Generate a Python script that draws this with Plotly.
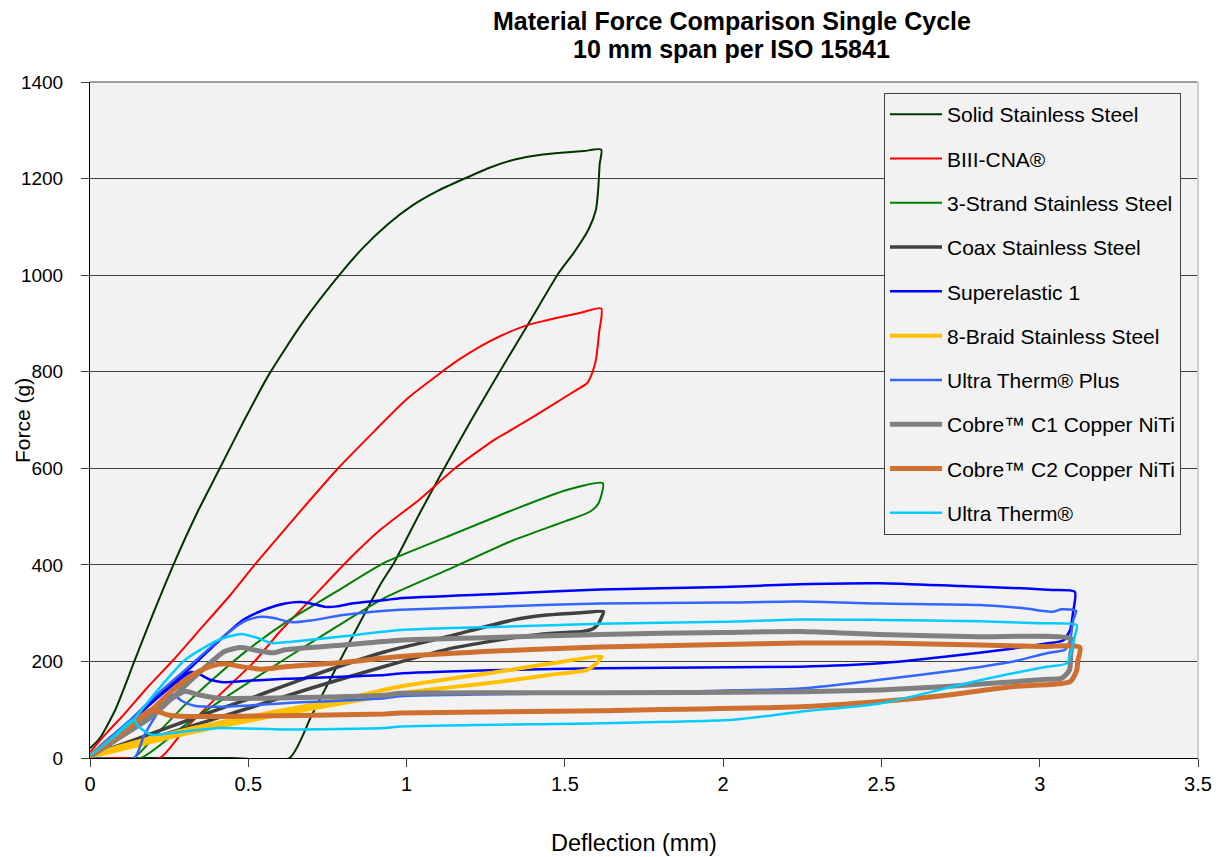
import plotly.graph_objects as go

# ---------------- data (deflection mm, force g) ----------------
solid_x = [0, 0.03, 0.08, 0.14, 0.2, 0.27, 0.34, 0.41, 0.49, 0.566, 0.67, 0.775, 0.86, 0.94, 1.02, 1.1, 1.176, 1.26, 1.345, 1.42, 1.5, 1.56, 1.615,
           1.61, 1.605, 1.598, 1.575, 1.53, 1.48, 1.39, 1.294, 1.2, 1.119, 1.04, 0.961, 0.916, 0.8, 0.7, 0.63, 0.45, 0.25, 0.02]
solid_y = [20, 40, 100, 200, 300, 410, 510, 600, 703, 795, 900, 990, 1055, 1105, 1145, 1175, 1198, 1222, 1240, 1249, 1254, 1257, 1260,
           1230, 1175, 1135, 1095, 1048, 1004, 905, 800, 695, 600, 505, 405, 358, 215, 88, 0, 0, 0, 0]

biii_x = [0, 0.05, 0.1, 0.18, 0.263, 0.35, 0.44, 0.52, 0.65, 0.781, 0.9, 1.0, 1.108, 1.17, 1.232, 1.3, 1.379, 1.44, 1.491, 1.55, 1.615,
          1.608, 1.598, 1.585, 1.57, 1.536, 1.47, 1.401, 1.34, 1.277, 1.153, 1.04, 0.916, 0.816, 0.7, 0.6, 0.52, 0.4, 0.3, 0.221, 0.1, 0.02]
biii_y = [12, 50, 85, 145, 203, 268, 335, 400, 500, 598, 678, 743, 798, 827, 852, 875, 896, 906, 914, 922, 931,
          880, 824, 795, 776, 762, 735, 707, 683, 659, 600, 535, 472, 410, 330, 262, 200, 125, 60, 0, 0, 0]

strand_x = [0.02, 0.137, 0.2, 0.3, 0.4, 0.5, 0.616, 0.774, 0.932, 1.127, 1.337, 1.506, 1.62,
            1.606, 1.579, 1.5, 1.337, 1.127, 0.932, 0.774, 0.616, 0.45, 0.3, 0.16, 0.02]
strand_y = [0, 0, 42, 110, 170, 225, 280, 343, 405, 458, 514, 555, 569,
            527, 510, 490, 451, 389, 332, 270, 205, 135, 68, 0, 0]

coax_x = [0, 0.1, 0.2, 0.35, 0.5, 0.7, 0.932, 1.127, 1.337, 1.443, 1.55, 1.622,
          1.615, 1.606, 1.59, 1.558, 1.45, 1.369, 1.25, 1.127, 0.932, 0.7, 0.5, 0.3, 0.15, 0]
coax_y = [5, 28, 52, 88, 122, 170, 220, 251, 286, 296, 301, 303,
          290, 278, 268, 262, 258, 252, 240, 225, 190, 145, 103, 62, 32, 3]

super_x = [0, 0.05, 0.121, 0.2, 0.3, 0.4, 0.484, 0.55, 0.616, 0.668, 0.71, 0.742, 0.78, 0.826, 0.932, 0.979, 1.3, 1.611, 2.0, 2.243, 2.495, 2.75, 2.96, 3.04, 3.111,
           3.105, 3.096, 3.075, 3.022, 2.917, 2.706, 2.495, 2.243, 1.611, 1.3, 0.979, 0.932, 0.616, 0.5, 0.42, 0.38, 0.35, 0.32, 0.25, 0.15, 0.05, 0]
super_y = [5, 35, 72, 120, 176, 238, 286, 307, 320, 323, 318, 313, 314, 320, 327, 331, 340, 349, 354, 360, 362, 356, 351, 348, 344,
           300, 265, 244, 237, 227, 210, 196, 189, 186, 182, 175, 172, 164, 160, 157, 162, 172, 178, 145, 88, 30, 3]

braid_x = [0, 0.1, 0.3, 0.6, 0.8, 0.979, 1.295, 1.45, 1.616,
           1.608, 1.6, 1.585, 1.569, 1.45, 1.295, 0.979, 0.8, 0.6, 0.3, 0.1, 0]
braid_y = [5, 25, 58, 98, 122, 148, 179, 195, 210,
           203, 196, 188, 182, 172, 158, 134, 114, 90, 50, 18, 2]

utp_x = [0, 0.05, 0.121, 0.2, 0.3, 0.4, 0.484, 0.532, 0.58, 0.637, 0.7, 0.8, 0.932, 0.979, 1.3, 1.611, 2.0, 2.243, 2.495, 2.811, 2.95, 3.043, 3.069, 3.115,
         3.106, 3.096, 3.08, 3.022, 2.917, 2.706, 2.495, 2.243, 1.611, 0.979, 0.932, 0.6, 0.42, 0.33, 0.29, 0.263, 0.22, 0.17, 0.14, 0.01]
utp_y = [5, 35, 75, 125, 182, 240, 282, 292, 290, 281, 285, 296, 305, 307, 314, 320, 322, 324, 320, 317, 310, 303, 308, 305,
         286, 244, 224, 217, 200, 179, 162, 144, 135, 128, 124, 113, 106, 108, 118, 131, 100, 45, 0, 0]

c1_x = [0, 0.05, 0.195, 0.332, 0.426, 0.479, 0.532, 0.58, 0.616, 0.8, 0.979, 1.3, 1.611, 2.0, 2.243, 2.495, 2.811, 3.101,
        3.098, 3.094, 3.069, 3.022, 2.706, 2.495, 2.243, 1.611, 0.979, 0.932, 0.405, 0.342, 0.3, 0.268, 0.2, 0.1, 0]
c1_y = [5, 25, 86, 169, 221, 229, 222, 218, 224, 234, 244, 250, 256, 260, 262, 256, 251, 246,
        215, 182, 165, 163, 148, 141, 137, 135, 134, 130, 124, 131, 138, 127, 95, 45, 3]

c2_x = [0, 0.05, 0.195, 0.26, 0.332, 0.38, 0.426, 0.479, 0.543, 0.616, 0.8, 0.979, 1.3, 1.611, 2.0, 2.243, 2.495, 2.811, 3.0, 3.127,
        3.12, 3.117, 3.096, 2.917, 2.706, 2.495, 2.243, 1.611, 0.979, 0.932, 0.405, 0.3, 0.247, 0.22, 0.195, 0.1, 0]
c2_y = [5, 28, 100, 140, 175, 190, 195, 189, 184, 189, 198, 210, 222, 230, 235, 238, 238, 234, 231, 229,
        200, 182, 158, 148, 130, 117, 106, 98, 93, 91, 86, 86, 89, 95, 100, 55, 3]

ut_x = [0, 0.05, 0.137, 0.2, 0.3, 0.405, 0.479, 0.532, 0.574, 0.637, 0.8, 0.979, 1.3, 1.611, 2.0, 2.243, 2.495, 2.811, 3.0, 3.117,
        3.11, 3.101, 3.085, 3.022, 2.811, 2.495, 2.243, 2.032, 1.611, 0.979, 0.932, 0.616, 0.405, 0.247, 0.195, 0.153, 0.137, 0.05, 0]
ut_y = [5, 30, 79, 130, 203, 244, 257, 248, 238, 241, 252, 265, 272, 278, 282, 287, 286, 283, 279, 275,
        250, 224, 196, 189, 161, 113, 96, 79, 72, 65, 62, 59, 62, 51, 48, 65, 79, 30, 5]

names = ["Solid Stainless Steel", "BIII-CNA®", "3-Strand Stainless Steel", "Coax Stainless Steel",
         "Superelastic 1", "8-Braid Stainless Steel", "Ultra Therm® Plus", "Cobre™ C1 Copper NiTi",
         "Cobre™ C2 Copper NiTi", "Ultra Therm®"]
xs = [solid_x, biii_x, strand_x, coax_x, super_x, braid_x, utp_x, c1_x, c2_x, ut_x]
ys = [solid_y, biii_y, strand_y, coax_y, super_y, braid_y, utp_y, c1_y, c2_y, ut_y]
colors = ["#003300", "#ff0000", "#008000", "#404040", "#0000ff", "#ffc000", "#3366ff", "#808080", "#d0702f", "#00ccff"]
widths = [2, 2, 2, 3.5, 2.5, 4, 2.5, 5, 5, 2.5]

x_ticks = [0, 0.5, 1, 1.5, 2, 2.5, 3, 3.5]
y_ticks = [0, 200, 400, 600, 800, 1000, 1200, 1400]

ARIAL = "Liberation Sans, Arial, sans-serif"

fig = go.Figure()
for i in range(len(names)):
    fig.add_trace(go.Scatter(
        x=xs[i], y=ys[i], mode="lines", name=names[i], legendgroup=f"g{i}",
        line=dict(color=colors[i], width=widths[i], shape="spline", smoothing=0.6),
    ))

fig.update_layout(
    width=1220, height=857,
    margin=dict(l=82, r=30, t=74, b=107, autoexpand=False),
    paper_bgcolor="white", plot_bgcolor="#f2f2f2",
    showlegend=True,
    legend=dict(
        x=0.7166, y=0.9837, xanchor="left", yanchor="top",
        bgcolor="#f2f2f2", bordercolor="#404040", borderwidth=1,
        font=dict(family=ARIAL, size=21, color="black"),
        tracegroupgap=14, itemwidth=52, traceorder="grouped",
    ),
    xaxis=dict(
        range=[0, 3.5], tickvals=x_ticks, ticktext=[f"{v:g}" for v in x_ticks],
        showgrid=False, zeroline=False, showline=True, linecolor="black", linewidth=1,
        ticks="outside", ticklen=8, tickcolor="#404040", automargin=False,
        tickfont=dict(family=ARIAL, size=20, color="black"),
    ),
    yaxis=dict(
        range=[0, 1400], tickvals=y_ticks, ticktext=[str(v) for v in y_ticks],
        showgrid=True, gridcolor="#404040", gridwidth=1,
        zeroline=False, showline=True, linecolor="black", linewidth=1,
        ticks="outside", ticklen=8, tickcolor="#404040", automargin=False,
        tickfont=dict(family=ARIAL, size=19, color="black"),
        ticklabelstandoff=14,
    ),
)

# plot frame (top gray, right light gray)
fig.add_shape(type="line", xref="paper", yref="paper", x0=0, x1=1, y0=1, y1=1,
              line=dict(color="#808080", width=1.5))
fig.add_shape(type="line", xref="paper", yref="paper", x0=1, x1=1, y0=0, y1=1,
              line=dict(color="#d0d0d0", width=2))

# title (two lines)
fig.add_annotation(text="<b>Material Force Comparison Single Cycle</b>", xref="paper", yref="paper",
                   x=0.5794, y=1.0902, xanchor="center", yanchor="middle", showarrow=False,
                   font=dict(family=ARIAL, size=25, color="black"))
fig.add_annotation(text="<b>10 mm span per ISO 15841</b>", xref="paper", yref="paper",
                   x=0.5794, y=1.0487, xanchor="center", yanchor="middle", showarrow=False,
                   font=dict(family=ARIAL, size=25, color="black"))
# axis titles
fig.add_annotation(text="Deflection (mm)", xref="paper", yref="paper",
                   x=0.491, y=-0.1257, xanchor="center", yanchor="middle", showarrow=False,
                   font=dict(family=ARIAL, size=23.5, color="black"))
fig.add_annotation(text="Force (g)", xref="paper", yref="paper", textangle=-90,
                   x=-0.0614, y=0.5, xanchor="center", yanchor="middle", showarrow=False,
                   font=dict(family=ARIAL, size=21, color="black"))

fig.write_html("out.html")
